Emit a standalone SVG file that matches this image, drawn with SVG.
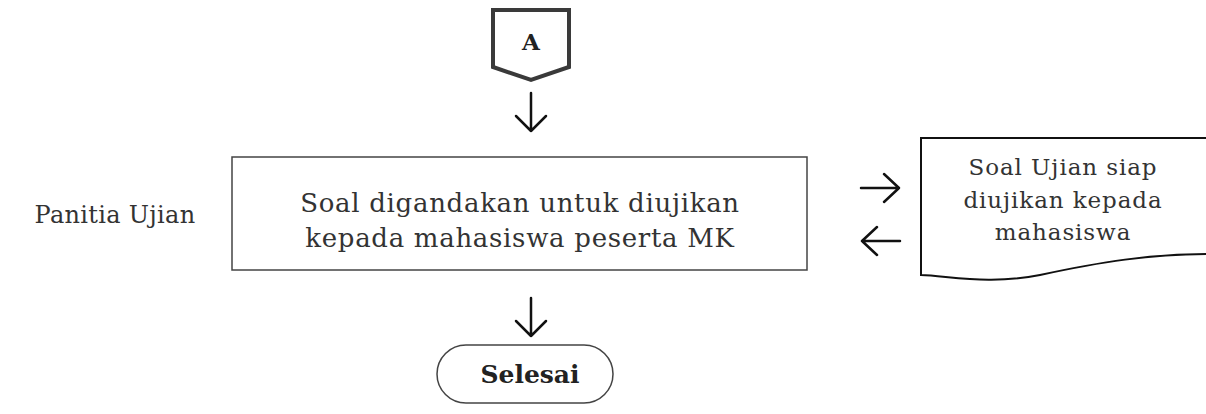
<svg xmlns="http://www.w3.org/2000/svg" width="1206" height="414" viewBox="0 0 1206 414">
<style>
.t{font-family:"DejaVu Serif","Liberation Serif",serif;fill:#333;}
.b{font-family:"DejaVu Serif","Liberation Serif",serif;font-weight:bold;fill:#222;}
.arr{fill:none;stroke:#111;stroke-width:2.5;stroke-linecap:round;stroke-linejoin:round;}
</style>
<rect width="1206" height="414" fill="#fff"/>
<g id="offpage-A">
<polygon points="493,10 569,10 569,67 531,80 493,67" fill="#fff" stroke="#3a3a3a" stroke-width="4" stroke-linejoin="miter"/>
<text class="b" x="531" y="50" font-size="23" text-anchor="middle">A</text>
</g>
<g id="lane-label">
<text class="t" x="115" y="223" font-size="24" letter-spacing="0.3" text-anchor="middle">Panitia Ujian</text>
</g>
<g id="process">
<rect x="232" y="157" width="575" height="113" fill="#fff" stroke="#444" stroke-width="1.5"/>
<text class="t" x="520" y="212" font-size="26" letter-spacing="0.7" text-anchor="middle">Soal digandakan untuk diujikan</text>
<text class="t" x="520" y="247" font-size="26" letter-spacing="0.7" text-anchor="middle">kepada mahasiswa peserta MK</text>
</g>
<g id="document">
<path d="M921,138 L1210,138 L1210,254 C1150,254 1100,262 1040,275 C990,285 950,276 921,275 Z" fill="#fff" stroke="#111" stroke-width="2"/>
<text class="t" x="1063" y="175" font-size="23" letter-spacing="0.9" text-anchor="middle">Soal Ujian siap</text>
<text class="t" x="1063" y="208" font-size="23" letter-spacing="0.9" text-anchor="middle">diujikan kepada</text>
<text class="t" x="1063" y="240" font-size="23" letter-spacing="0.9" text-anchor="middle">mahasiswa</text>
</g>
<g id="terminator">
<rect x="437" y="345" width="176" height="58" rx="29" ry="29" fill="#fff" stroke="#444" stroke-width="1.5"/>
<text class="b" x="530" y="383" font-size="25" text-anchor="middle">Selesai</text>
</g>
<g id="connectors">
<path class="arr" d="M531,93 L531,131 M516,116 L531,131 L546,116"/>
<path class="arr" d="M861,188 L899,188 M884,174 L899,188 L884,202"/>
<path class="arr" d="M900,241 L862,241 M877,227 L862,241 L877,255"/>
<path class="arr" d="M531,298 L531,336 M516,321 L531,336 L546,321"/>
</g>
</svg>
